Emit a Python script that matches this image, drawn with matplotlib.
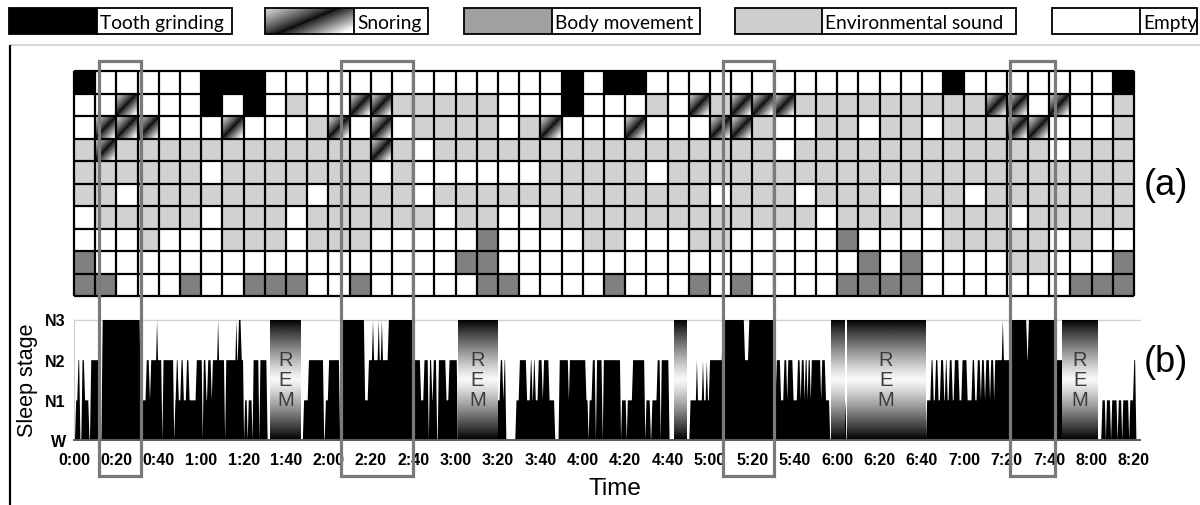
import numpy as np
import matplotlib
matplotlib.use('Agg')
import matplotlib.pyplot as plt
from matplotlib.colors import ListedColormap
from matplotlib.patches import Rectangle
import matplotlib.transforms as mtransforms

plt.rcParams['font.family'] = ['Liberation Sans', 'DejaVu Sans']

# ---------------- data ----------------
legend_labels = ['Tooth grinding', 'Snoring', 'Body movement', 'Environmental sound', 'Empty']

# event grid: 10 rows x 50 columns (10 min per column)
# T = tooth grinding, S = snoring, B = body movement, E = environmental sound, . = empty
grid_rows = [
    "T.....TTT..............T.TT..............T.......T",
    "..S...T.T.E..SSEEEEE...T...E.SESSSEEEEEEEEESS.S..E",
    ".SSS...S...ES.S.EEEE.ES...S...SSE..EE.EE.EEESS...E",
    "ES" + "E" * 12 + "SE." + "E" * 16 + "." + "E" * 12 + ".EEE",
    "EEEEEE.EEEEEEE.E......EEEEE." + "E" * 22,
    "EE.EEEEEEEE.EEEE.E" + "E" * 12 + ".EEE.EEE.EEE." + "E" * 7,
    ".EEEEE.EEE.EEEEEE.EE.." + "E" * 13 + ".EEEE.EEE.EEEEE",
    "...E...EEE.EEE.....B....EE...EE.....B....EEEEE.E..",
    "B" + "." * 17 + "BB" + "." * 17 + "B.B....EE...B",
    "BB...B..BBB..B.....BB....B...B.B....BBBB.......BBB",
]

# hypnogram: change times (min) and stage (0=W, 1=N1, 2=N2, 3=N3, -1=REM)
hyp_change_min = [
    0, 0.5, 1.6, 2.5, 3.5, 4.7, 6.8, 7.6, 12.0, 13.0,
    31.0, 33.8, 35.3, 35.9, 38.8, 39.1, 41.2, 41.7, 46.8, 47.3, 48.0, 48.9, 50.2, 51.3, 52.8, 54.0,
    57.4, 60.3, 60.7, 62.0, 62.8, 64.5, 65.0, 67.6, 67.9, 70.8, 71.3, 76.2, 76.5, 77.3, 78.6, 79.8,
    80.2, 81.5, 81.9, 83.8, 84.2, 87.0, 87.4, 90.8,
    92.5, 107.0, 108.0, 110.3, 117.5, 118.3, 119.8, 125.0, 125.6,
    136.8, 138.6, 140.6, 141.0, 143.3, 143.7, 144.8, 145.2, 148.0, 159.6,
    163.2, 164.8, 166.9, 167.4, 168.5, 169.2, 170.8, 171.6, 175.2, 176.6, 180.6,
    181.0, 199.5, 200.8, 202.0, 202.6, 203.4, 208.2, 209.8, 213.2, 215.0, 215.8, 216.5, 217.3, 218.7,
    220.6, 221.2, 223.8, 226.5, 228.6, 233.0, 233.4, 241.2, 242.3, 242.7, 244.2, 245.7, 246.2, 248.9,
    249.4, 257.6, 258.0, 260.3, 260.7, 263.2, 269.0, 269.5, 271.6, 272.3, 274.8, 276.3, 276.7, 280.4,
    283.0, 288.8, 290.3, 293.4, 293.8, 296.2, 296.7, 298.0, 298.5, 299.5,
    305.6, 316.0, 318.0, 329.8, 331.0,
    333.0, 334.6, 336.0, 336.4, 338.9, 341.0, 342.3, 342.8, 344.2, 344.6, 345.6, 346.0, 347.1, 347.5,
    352.0, 352.4, 354.2, 356.2,
    356.9, 363.3, 363.9,
    364.4, 401.4, 401.9, 404.0, 405.0, 406.1, 407.3, 408.5, 410.0, 410.8, 411.6, 412.6, 414.0, 415.0,
    417.2, 418.6, 421.0, 423.4, 424.6, 425.8, 427.3, 427.8, 429.2, 429.8, 431.6, 432.1, 433.6, 434.0,
    437.7, 438.1, 441.4, 449.2, 449.9, 462.4, 466.2, 482.8, 484.6, 486.3, 486.7, 488.7, 489.2, 491.8,
    492.3, 494.0, 494.4, 497.3, 497.7, 499.6, 500.6,
]
hyp_stage = [
    0, 1, 2, 0, 2, 1, 0, 2, 0, 3,
    1, 2, 1, 2, 3, 2, 0, 2, 0, 1, 2, 1, 2, 1, 2, 1,
    2, 0, 2, 1, 2, 1, 2, 3, 2, 0, 2, 3, 2, 3, 2, 0,
    1, 0, 1, 0, 2, 0, 2, 0,
    -1, 0, 1, 2, 0, 1, 2, 0, 3,
    1, 2, 3, 2, 3, 2, 3, 2, 3, 2,
    1, 2, 0, 2, 1, 2, 0, 2, 1, 2, 0,
    -1, 1, 2, 1, 2, 0, 1, 2, 1, 2, 1, 2, 1, 2,
    1, 2, 1, 0, 2, 1, 2, 1, 0, 1, 2, 0, 2, 0,
    2, 0, 1, 0, 1, 2, 0, 1, 0, 1, 2, 0, 2, 0,
    -1, 0, 1, 2, 1, 2, 1, 2, 1, 2,
    3, 2, 3, 1, 2,
    1, 2, 1, 2, 1, 2, 1, 2, 1, 2, 1, 2, 1, 2,
    1, 2, 1, 0,
    -1, 1, 0,
    -1, 0, 1, 2, 1, 2, 1, 2, 1, 2, 1, 2, 1, 2,
    1, 2, 1, 2, 1, 2, 1, 2, 1, 2, 1, 2, 1, 2,
    3, 2, 3, 2, 3, 2, -1, 0, 1, 0, 1, 0, 1, 0,
    1, 0, 1, 0, 1, 2, 0,
]
hyp_end_min = 501.5

box_start_min = [11.8, 126.0, 306.0, 441.5]
box_end_min = [31.6, 160.0, 330.0, 462.7]

time_ticks_min = list(range(0, 501, 20))
time_tick_labels = ['0:00', '0:20', '0:40', '1:00', '1:20', '1:40', '2:00', '2:20', '2:40',
                    '3:00', '3:20', '3:40', '4:00', '4:20', '4:40', '5:00', '5:20', '5:40',
                    '6:00', '6:20', '6:40', '7:00', '7:20', '7:40', '8:00', '8:20']
stage_ticks = [0, 1, 2, 3]
stage_labels = ['W', 'N1', 'N2', 'N3']

# ---------------- figure ----------------
W, H = 1200, 506
fig = plt.figure(figsize=(W / 100, H / 100), dpi=100)

def ax_rect(x0, y0, x1, y1):
    return [x0 / W, 1 - y1 / H, (x1 - x0) / W, (y1 - y0) / H]

# gradients
def snore_gradient(n=40, off=0.0, slope=1.0):
    v_top = np.linspace(0, 1, n)[:, None]
    u = np.linspace(0, 1, n)[None, :]
    v = 1 - v_top
    s = u - (off + slope * v)
    g = np.where(s < 0, 0.78 * np.clip(-s / max(off + slope, 1e-3) * 1.15, 0, 1) ** 0.8,
                 np.clip(0.12 + 1.05 * s / max(1 - off, 1e-3), 0, 1))
    return g

rem_y = np.linspace(-1, 1, 300)[:, None]
rem_img = np.clip(1 - np.abs(rem_y) ** 1.2, 0, 1) * 0.97

# ---- panel (a): event grid ----
ax_g = fig.add_axes(ax_rect(74, 72, 1134, 297))
code = {'.': 0, 'S': 0, 'E': 1, 'B': 2, 'T': 3}
cmap = ListedColormap(['white', '#d1d1d3', '#808083', '#000000'])
arr = np.array([[code[ch] for ch in row] for row in grid_rows])
n_rows, n_cols = arr.shape
ax_g.pcolormesh(np.arange(n_cols + 1), np.arange(n_rows + 1), arr, cmap=cmap,
                vmin=-0.5, vmax=3.5, shading='flat', zorder=1)
sn = snore_gradient()
for r, row in enumerate(grid_rows):
    for c, ch in enumerate(row):
        if ch == 'S':
            ax_g.imshow(sn, extent=(c, c + 1, r + 1, r), cmap='gray', vmin=0, vmax=1,
                        aspect='auto', interpolation='bilinear', zorder=2)
ax_g.vlines(np.arange(n_cols + 1), 0, n_rows, color='black', lw=1.6, zorder=3, clip_on=False)
ax_g.hlines(np.arange(n_rows + 1), 0, n_cols, color='black', lw=1.6, zorder=3, clip_on=False)
ax_g.set_xlim(0, n_cols)
ax_g.set_ylim(n_rows, 0)
ax_g.axis('off')

# ---- panel (b): hypnogram ----
ax_h = fig.add_axes(ax_rect(74, 320.5, 74 + 503 * 2.12, 441))
bounds = hyp_change_min + [hyp_end_min]
vals = [0 if s < 0 else s for s in hyp_stage]
ramp = 0.3
xs, ys = [0.0], [0.0]
for i, v in enumerate(vals):
    a, b = bounds[i], bounds[i + 1]
    ra = ramp if i > 0 else 0
    rb = ramp if i < len(vals) - 1 else 0
    if b - a > ra + rb:
        xs += [a + ra, b - rb]
        ys += [v, v]
    else:
        xs.append((a + b) / 2)
        ys.append(v)
xs.append(hyp_end_min)
ys.append(0)
ax_h.fill_between(xs, ys, 0, color='black', lw=0, zorder=2)

for i, s in enumerate(hyp_stage):
    if s == -1:
        a, b = bounds[i], bounds[i + 1]
        ax_h.imshow(rem_img, extent=(a, b, 0, 3), origin='lower', cmap='gray', vmin=0, vmax=1,
                    aspect='auto', interpolation='bilinear', zorder=3)
        if b - a > 10:
            for ch, yy in zip('REM', [2.0, 1.5, 1.0]):
                ax_h.text((a + b) / 2, yy, ch, ha='center', va='center', fontsize=14.5,
                          color='#3c3c3c', zorder=4)

ax_h.axhline(3, color='#d2d2d2', lw=1.0, zorder=1, clip_on=False)
ax_h.set_xlim(0, 503)
ax_h.set_ylim(0, 3)
for sp in ['top', 'right']:
    ax_h.spines[sp].set_visible(False)
ax_h.spines['left'].set_color('#cfcfcf')
ax_h.spines['left'].set_linewidth(0.8)
ax_h.spines['bottom'].set_color('#5a5a5a')
ax_h.spines['bottom'].set_linewidth(1.4)
ax_h.spines['bottom'].set_zorder(5)
ax_h.set_yticks(stage_ticks)
ax_h.set_yticklabels(stage_labels, fontweight='bold', fontsize=11.5)
ax_h.set_xticks(time_ticks_min)
ax_h.set_xticklabels(time_tick_labels, fontweight='bold', fontsize=11.5)
ax_h.tick_params(axis='both', length=0)
ax_h.tick_params(axis='x', pad=9)
ax_h.tick_params(axis='y', pad=6)

# ---- overlay (pixel coords) ----
ax_o = fig.add_axes([0, 0, 1, 1])
ax_o.set_xlim(0, W)
ax_o.set_ylim(H, 0)
ax_o.axis('off')
ax_o.set_zorder(10)
ax_o.patch.set_alpha(0)

# frame
ax_o.plot([10, W], [46, 46], color='#d8d8d8', lw=1.5, solid_capstyle='butt')
ax_o.plot([10, 10], [46, H], color='black', lw=1.6, solid_capstyle='butt')

# legend
leg_x = [(9, 97, 232), (265, 354, 428), (464, 552, 700), (735, 822, 1016), (1052, 1140, 1197)]
leg_fill = ['#000000', None, '#a0a0a3', '#cfcfd1', '#ffffff']
ly0, ly1 = 9, 35
for (x0, x1, x2), lab, fc in zip(leg_x, legend_labels, leg_fill):
    if fc is None:
        ax_o.imshow(snore_gradient(n=80, off=0.15, slope=0.7), extent=(x0, x1, ly1, ly0),
                    cmap='gray', vmin=0, vmax=1, aspect='auto', interpolation='bilinear', zorder=1)
    else:
        ax_o.add_patch(Rectangle((x0, ly0), x1 - x0, ly1 - ly0, facecolor=fc, edgecolor='none', zorder=1))
    ax_o.add_patch(Rectangle((x0, ly0), x2 - x0, ly1 - ly0, facecolor='none', edgecolor='black',
                             lw=1.3, zorder=2))
    ax_o.plot([x1, x1], [ly0, ly1], color='black', lw=1.3, zorder=2)
    ax_o.text(x1 + 3, (ly0 + ly1) / 2 + 1, lab, ha='left', va='center', fontsize=13.8,
              family=['Lato', 'DejaVu Sans'], zorder=3)
ax_o.set_xlim(0, W)
ax_o.set_ylim(H, 0)

# highlight boxes spanning both panels (x in minutes)
btr = mtransforms.blended_transform_factory(ax_h.transData, ax_o.transData)
for a, b in zip(box_start_min, box_end_min):
    ax_o.add_patch(Rectangle((a, 62), b - a, 477 - 62, transform=btr, facecolor='none',
                             edgecolor='#7a7a7a', lw=2.3, zorder=5, clip_on=False))

# labels
ax_o.text(28, 380, 'Sleep stage', rotation=90, ha='center', va='center', fontsize=15.5)
ax_o.text(615, 489, 'Time', ha='center', va='center', fontsize=17.5)
ax_o.text(1166, 185, '(a)', ha='center', va='center', fontsize=26)
ax_o.text(1166, 363, '(b)', ha='center', va='center', fontsize=26)

fig.savefig('out.png', dpi=100)
